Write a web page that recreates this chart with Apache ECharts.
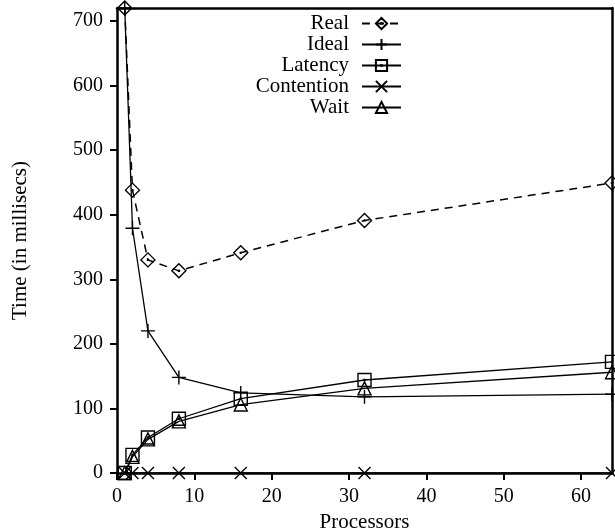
<!DOCTYPE html>
<html>
<head>
<meta charset="utf-8">
<script src="https://cdn.jsdelivr.net/npm/echarts@6/dist/echarts.min.js"></script>
<style>
  html, body { margin: 0; padding: 0; background: #fff; }
  #chart { width: 615px; height: 531px; }
</style>
</head>
<body>
<div id="chart"></div>
<script>
// Processor counts and measured times (ms)
const processors = [1, 2, 4, 8, 16, 32, 64];
const realTimes = [720, 438, 330, 313, 341, 391, 449];
const idealTimes = [720, 379, 220, 148, 124, 118, 122];
const latencyTimes = [0, 28, 55, 84, 115, 144, 172];
const contentionTimes = [0, 0, 0, 0, 0, 0, 0];
const waitTimes = [0, 25, 52, 80, 106, 131, 156];

// Tick positions
const xTicks = [0, 10, 20, 30, 40, 50, 60];
const yTicks = [0, 100, 200, 300, 400, 500, 600, 700];

const FONT = '"Liberation Serif", "Times New Roman", serif';

// Outline-style point symbols
const SYM = {
  diamond: 'path://M0,-7 L7,0 L0,7 L-7,0 Z M-0.4,-0.4 L0.4,-0.4 L0.4,0.4 L-0.4,0.4 Z',
  plus: 'path://M0,-7 L0,7 M-7,0 L7,0',
  square: 'path://M-6,-6 L6,-6 L6,6 L-6,6 Z M-0.4,-0.4 L0.4,-0.4 L0.4,0.4 L-0.4,0.4 Z',
  cross: 'path://M-6,-6 L6,6 M-6,6 L6,-6',
  triangle: 'path://M0,-6 L6.5,5 L-6.5,5 Z'
};

const pairs = arr => processors.map((p, i) => [p, arr[i]]);

function lineSeries(name, arr, symbol, size, dashed) {
  return {
    name: name,
    type: 'line',
    data: pairs(arr),
    symbol: symbol,
    symbolSize: size,
    showAllSymbol: true,
    lineStyle: { color: '#000', width: dashed ? 1.5 : 1.3, type: dashed ? [8, 6] : 'solid' },
    itemStyle: { color: 'transparent', borderColor: '#000', borderWidth: 1.4 },
    emphasis: { disabled: true },
    z: 3
  };
}

const chart = echarts.init(document.getElementById('chart'), null, { renderer: 'canvas' });

const axisLineStyle = { color: '#000', width: 2.5 };

chart.setOption({
  animation: false,
  backgroundColor: '#fff',
  textStyle: { fontFamily: FONT, color: '#000' },
  grid: { left: 117, right: 3, top: 8, bottom: 58, outerBoundsMode: 'none', containLabel: false },
  legend: {
    orient: 'vertical',
    right: 208,
    top: 8,
    align: 'right',
    itemWidth: 39,
    itemHeight: 14,
    itemGap: 0,
    textStyle: { fontFamily: FONT, fontSize: 21, color: '#000', lineHeight: 14, padding: [0, 8, 0, 0] },
    data: ['Real', 'Ideal', 'Latency', 'Contention', 'Wait']
  },
  xAxis: [{
    type: 'value',
    min: 0,
    max: 64,
    interval: 10,
    position: 'bottom',
    name: 'Processors',
    nameLocation: 'middle',
    nameGap: 31,
    nameTextStyle: { fontFamily: FONT, fontSize: 21, color: '#000' },
    axisLine: { show: true, onZero: false, lineStyle: axisLineStyle },
    axisTick: { show: true, inside: false, length: 7, lineStyle: { color: '#000', width: 2 }, customValues: xTicks },
    axisLabel: { fontFamily: FONT, fontSize: 20, color: '#000', margin: 14, customValues: xTicks },
    splitLine: { show: false }
  }, {
    type: 'value',
    min: 0,
    max: 64,
    position: 'top',
    axisLine: { show: true, onZero: false, lineStyle: axisLineStyle },
    axisTick: { show: false },
    axisLabel: { show: false },
    splitLine: { show: false }
  }],
  yAxis: [{
    type: 'value',
    min: 0,
    max: 720,
    interval: 100,
    position: 'left',
    name: 'Time (in millisecs)',
    nameLocation: 'middle',
    nameGap: 86,
    nameTextStyle: { fontFamily: FONT, fontSize: 21, color: '#000' },
    axisLine: { show: true, onZero: false, lineStyle: axisLineStyle },
    axisTick: { show: true, inside: false, length: 7, lineStyle: { color: '#000', width: 2 }, customValues: yTicks },
    axisLabel: { fontFamily: FONT, fontSize: 20, color: '#000', margin: 14, customValues: yTicks },
    splitLine: { show: false }
  }, {
    type: 'value',
    min: 0,
    max: 720,
    position: 'right',
    axisLine: { show: true, onZero: false, lineStyle: axisLineStyle },
    axisTick: { show: false },
    axisLabel: { show: false },
    splitLine: { show: false }
  }],
  series: [
    lineSeries('Real', realTimes, SYM.diamond, 14, true),
    lineSeries('Ideal', idealTimes, SYM.plus, 14, false),
    lineSeries('Latency', latencyTimes, SYM.square, 13, false),
    lineSeries('Contention', contentionTimes, SYM.cross, 12, false),
    lineSeries('Wait', waitTimes, SYM.triangle, 13, false)
  ]
});
</script>
</body>
</html>
